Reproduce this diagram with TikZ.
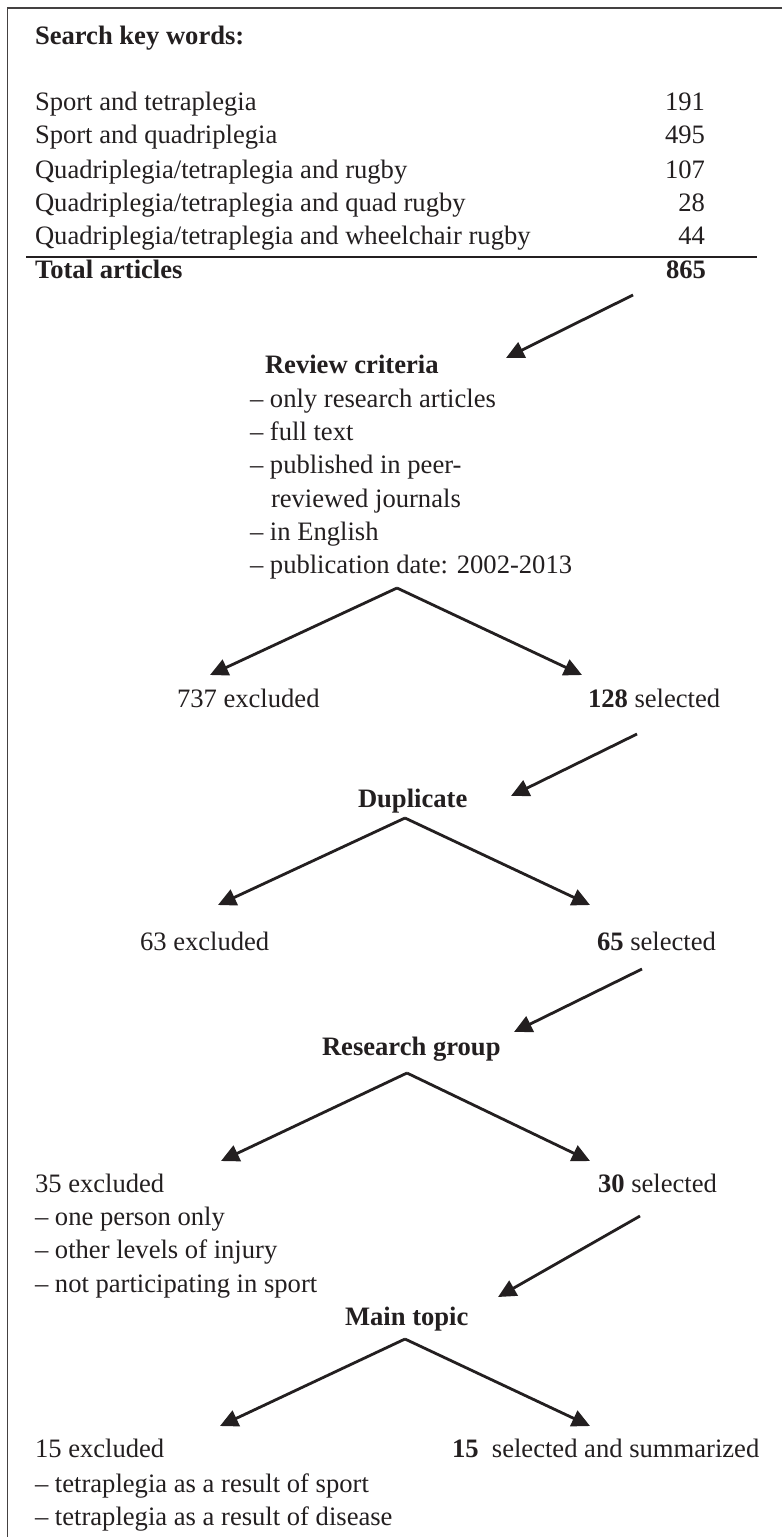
\documentclass[tikz,border=0pt]{standalone}
\usepackage{fontspec}
\setmainfont{Liberation Serif}
\usetikzlibrary{arrows.meta}
\definecolor{ink}{HTML}{231F20}
\newcommand{\diagfs}{\fontsize{26.6bp}{33bp}\selectfont}
\begin{document}
\begin{tikzpicture}[x=1bp,y=-1bp,
  txt/.style={inner sep=0pt, outer sep=0pt, text=ink, font=\diagfs},
  lt/.style={txt, anchor=base west},
  rt/.style={txt, anchor=base east},
  bf/.style={font=\diagfs\bfseries},
  flow/.style={draw=ink, line width=2.8bp, -{Triangle[length=18bp,width=17bp]}},
  frame/.style={draw=ink!85, line width=1.6bp},
  rule/.style={draw=ink, line width=2.2bp}]
\useasboundingbox (0,0) rectangle (782,1537);
\fill[white] (0,0) rectangle (782,1537);
% frame (open at right and bottom)
\coordinate (fTR) at (782,8);
\coordinate (fTL) at (7.5,8);
\coordinate (fBL) at (7.5,1537);
\draw[frame] (fTR) -- (fTL) -- (fBL);

% search table
\node[lt, bf] (skw) at (35,45) {Search key words:};
\node[lt] (r1) at (35,111) {Sport and tetraplegia};
\node[rt] (n1) at (705,111) {191};
\node[lt] (r2) at (35,144) {Sport and quadriplegia};
\node[rt] (n2) at (705,144) {495};
\node[lt] (r3) at (35,178) {Quadriplegia/tetraplegia and rugby};
\node[rt] (n3) at (705,178) {107};
\node[lt] (r4) at (35,211) {Quadriplegia/tetraplegia and quad rugby};
\node[rt] (n4) at (705,211) {28};
\node[lt] (r5) at (35,244) {Quadriplegia/tetraplegia and wheelchair rugby};
\node[rt] (n5) at (705,244) {44};
\coordinate (ruleL) at (26,257);
\coordinate (ruleR) at (757,257);
\draw[rule] (ruleL) -- (ruleR);
\node[lt, bf] (tot) at (35,278) {Total articles};
\node[rt, bf] (ntot) at (706,278) {865};

% review criteria
\coordinate (a1s) at (633,295);
\coordinate (a1e) at (506,358);
\draw[flow] (a1s) -- (a1e);
\node[lt, bf] (rc) at (265,373) {Review criteria};
\node[lt] (rc1) at (250,407) {– only research articles};
\node[lt] (rc2) at (250,440) {– full text};
\node[lt] (rc3) at (250,473) {– published in peer-};
\node[lt] (rc4) at (271,507) {reviewed journals};
\node[lt] (rc5) at (250,540) {– in English};
\node[lt] (rc6) at (250,573) {– publication date: 2002-2013};
\coordinate (ap1) at (397,588);
\coordinate (t1l) at (210,675);
\coordinate (t1r) at (582,675);
\draw[flow] (ap1) -- (t1l);
\draw[flow] (ap1) -- (t1r);
\node[lt] (ex1) at (177,707) {737 excluded};
\node[lt] (se1) at (588,707) {\textbf{128} selected};

% duplicate
\coordinate (a2s) at (637,734);
\coordinate (a2e) at (511,796);
\draw[flow] (a2s) -- (a2e);
\node[lt, bf] (dup) at (358,807) {Duplicate};
\coordinate (ap2) at (405,818);
\coordinate (t2l) at (218,905);
\coordinate (t2r) at (590,905);
\draw[flow] (ap2) -- (t2l);
\draw[flow] (ap2) -- (t2r);
\node[lt] (ex2) at (140,950) {63 excluded};
\node[lt] (se2) at (597,950) {\textbf{65} selected};

% research group
\coordinate (a3s) at (642,969);
\coordinate (a3e) at (514,1032);
\draw[flow] (a3s) -- (a3e);
\node[lt, bf] (rg) at (322,1055) {Research group};
\coordinate (ap3) at (407,1073);
\coordinate (t3l) at (221,1161);
\coordinate (t3r) at (590,1161);
\draw[flow] (ap3) -- (t3l);
\draw[flow] (ap3) -- (t3r);
\node[lt] (ex3) at (35,1192) {35 excluded};
\node[lt] (ex3a) at (35,1225) {– one person only};
\node[lt] (ex3b) at (35,1258) {– other levels of injury};
\node[lt] (ex3c) at (35,1292) {– not participating in sport};
\node[lt] (se3) at (598,1192) {\textbf{30} selected};

% main topic
\coordinate (a4s) at (640,1216);
\coordinate (a4e) at (498,1297);
\draw[flow] (a4s) -- (a4e);
\node[lt, bf] (mt) at (345,1325) {Main topic};
\coordinate (ap4) at (405,1339);
\coordinate (t4l) at (220,1426);
\coordinate (t4r) at (590,1426);
\draw[flow] (ap4) -- (t4l);
\draw[flow] (ap4) -- (t4r);
\node[lt] (ex4) at (35,1457) {15 excluded};
\node[lt] (ex4a) at (35,1492) {– tetraplegia as a result of sport};
\node[lt] (ex4b) at (35,1525) {– tetraplegia as a result of disease};
\node[lt] (se4) at (452,1457) {\textbf{15}\ \ selected and summarized};
\end{tikzpicture}
\end{document}
